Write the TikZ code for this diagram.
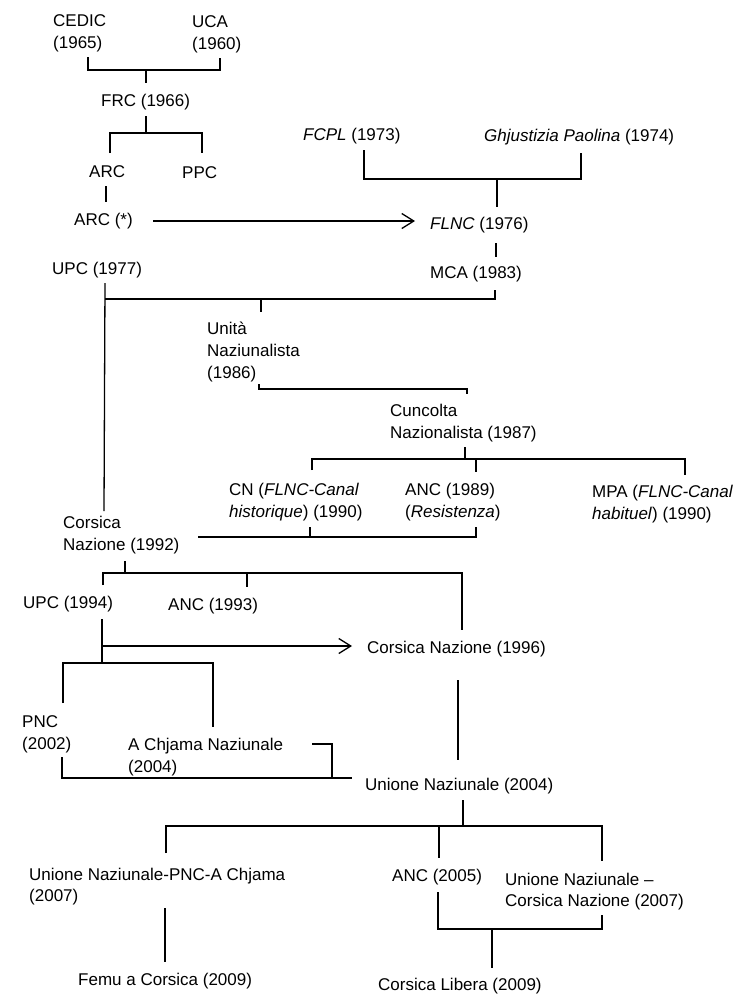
\documentclass[tikz,border=0pt]{standalone}
\usepackage{fontspec}
\setmainfont{Liberation Sans}
\usetikzlibrary{arrows.meta}
\newcommand{\twoline}[2]{\begin{tabular}[t]{@{}l@{}}#1\\#2\end{tabular}}
\newcommand{\threeline}[3]{\begin{tabular}[t]{@{}l@{}}#1\\#2\\#3\end{tabular}}
\begin{document}
\begin{tikzpicture}[x=1pt,y=-1pt,
  lbl/.style={inner sep=0pt,anchor=base west,font=\fontsize{17}{22}\selectfont},
  tight/.style={font=\fontsize{17}{20.5}\selectfont},
  conn/.style={line width=1.3pt,line join=miter},
  arr/.style={conn,-{Straight Barb[length=12pt,width=15pt]}}]
\fill[white] (0,0) rectangle (738,994);
\useasboundingbox (0,0) rectangle (738,994);
% labels
\node[lbl] (cedic) at (53,26) {\twoline{CEDIC}{(1965)}};
\node[lbl] (uca) at (192,27.5) {\twoline{UCA}{(1960)}};
\node[lbl] (frc) at (101,106.5) {FRC (1966)};
\node[lbl] (arc) at (89,177) {ARC};
\node[lbl] (ppc) at (182,178) {PPC};
\node[lbl] (arcs) at (74,225.5) {ARC (*)};
\node[lbl] (fcpl) at (303,140.5) {\textit{FCPL} (1973)};
\node[lbl] (ghj) at (484,141.5) {\textit{Ghjustizia Paolina} (1974)};
\node[lbl] (flnc) at (430,229.5) {\textit{FLNC} (1976)};
\node[lbl] (mca) at (430,278.5) {MCA (1983)};
\node[lbl] (upc77) at (52,274.5) {UPC (1977)};
\node[lbl] (unita) at (207,334) {\threeline{Unità}{Naziunalista}{(1986)}};
\node[lbl] (cunc) at (390,416) {\twoline{Cuncolta}{Nazionalista (1987)}};
\node[lbl] (cn) at (229,495) {\twoline{CN (\textit{FLNC-Canal}}{\textit{historique}) (1990)}};
\node[lbl] (anc89) at (405,495) {\twoline{ANC (1989)}{(\textit{Resistenza})}};
\node[lbl] (mpa) at (592,497.5) {\twoline{MPA (\textit{FLNC-Canal}}{\textit{habituel}) (1990)}};
\node[lbl] (cn92) at (63,528.5) {\twoline{Corsica}{Nazione (1992)}};
\node[lbl] (upc94) at (23,608.5) {UPC (1994)};
\node[lbl] (anc93) at (168,610.5) {ANC (1993)};
\node[lbl] (cn96) at (367,653.5) {Corsica Nazione (1996)};
\node[lbl] (pnc) at (22,727) {\twoline{PNC}{(2002)}};
\node[lbl] (acn) at (128,750.5) {\twoline{A Chjama Naziunale}{(2004)}};
\node[lbl] (un04) at (365,790.5) {Unione Naziunale (2004)};
\node[lbl,tight] (unpnc) at (29,880.5) {\twoline{Unione Naziunale-PNC-A Chjama}{(2007)}};
\node[lbl] (anc05) at (392,881.5) {ANC (2005)};
\node[lbl,tight] (uncn) at (505,885.5) {\twoline{Unione Naziunale –}{Corsica Nazione (2007)}};
\node[lbl] (femu) at (78,985.5) {Femu a Corsica (2009)};
\node[lbl] (clib) at (378,990.5) {Corsica Libera (2009)};
% junction coordinates
\coordinate (a1) at (88,57); \coordinate (a2) at (220,58); \coordinate (a3) at (146,70); \coordinate (a4) at (146,83);
\coordinate (b1) at (146,116); \coordinate (b2) at (146,133); \coordinate (b3) at (110,153); \coordinate (b4) at (202,153);
\coordinate (c1) at (106,186); \coordinate (c2) at (106,202);
\coordinate (d1) at (153,221); \coordinate (d2) at (415,221);
\coordinate (e1) at (364,150); \coordinate (e2) at (581,153); \coordinate (e3) at (497,179); \coordinate (e4) at (497,207);
\coordinate (f1) at (496,243); \coordinate (f2) at (496,257);
\coordinate (g1) at (105,283); \coordinate (g2) at (104,511); \coordinate (g3) at (105,299);
\coordinate (g4) at (495,290); \coordinate (g5) at (495,299); \coordinate (g6) at (261,299); \coordinate (g7) at (261,312);
\coordinate (h1) at (259,384); \coordinate (h2) at (259,389); \coordinate (h3) at (467,389); \coordinate (h4) at (467,394);
\coordinate (i1) at (465,447); \coordinate (i2) at (465,459); \coordinate (i3) at (312,470);
\coordinate (i4) at (476,472); \coordinate (i6) at (476,459); \coordinate (i5) at (685,475);
\coordinate (j1) at (198,537); \coordinate (j2) at (310,527); \coordinate (j3) at (310,537); \coordinate (j4) at (476,527); \coordinate (j5) at (476,537);
\coordinate (k1) at (125,561); \coordinate (k2) at (125,573); \coordinate (k3) at (103,585); \coordinate (k4) at (247,587); \coordinate (k6) at (247,573); \coordinate (k5) at (462,630);
\coordinate (l1) at (102,619); \coordinate (l2) at (102,663); \coordinate (l3) at (102,646); \coordinate (l4) at (352,646);
\coordinate (l5) at (63,703); \coordinate (l6) at (213,727);
\coordinate (m1) at (312,744); \coordinate (m2) at (332,744); \coordinate (m3) at (332,778);
\coordinate (m4) at (62,757); \coordinate (m5) at (62,778); \coordinate (m6) at (352,778);
\coordinate (n1) at (458,680); \coordinate (n2) at (458,760);
\coordinate (o1) at (463,800); \coordinate (o2) at (463,826); \coordinate (o3) at (166,853); \coordinate (o4) at (439,858); \coordinate (o6) at (439,826); \coordinate (o5) at (602,861);
\coordinate (p1) at (165,908); \coordinate (p2) at (165,962);
\coordinate (q1) at (438,892); \coordinate (q2) at (602,915); \coordinate (q3) at (492,929); \coordinate (q4) at (492,968);
% connectors
\draw[conn] (a1) |- (a3) -| (a2);
\draw[conn] (a3) -- (a4);
\draw[conn] (b1) -- (b2);
\draw[conn] (b3) |- (b2) -| (b4);
\draw[conn] (c1) -- (c2);
\draw[arr] (d1) -- (d2);
\draw[conn] (e1) |- (e3) -| (e2);
\draw[conn] (e3) -- (e4);
\draw[conn] (f1) -- (f2);
\draw[conn] (g1) -- (g2);
\draw[conn] (g3) -- (g5) -- (g4);
\draw[conn] (g6) -- (g7);
\draw[conn] (h1) -- (h2) -- (h3) -- (h4);
\draw[conn] (i1) -- (i2);
\draw[conn] (i3) |- (i2) -| (i5);
\draw[conn] (i6) -- (i4);
\draw[conn] (j1) -- (j5) -- (j4);
\draw[conn] (j2) -- (j3);
\draw[conn] (k1) -- (k2);
\draw[conn] (k3) |- (k2) -| (k5);
\draw[conn] (k6) -- (k4);
\draw[conn] (l1) -- (l2);
\draw[arr] (l3) -- (l4);
\draw[conn] (l5) |- (l2) -| (l6);
\draw[conn] (m1) -- (m2) -- (m3);
\draw[conn] (m4) -- (m5) -- (m6);
\draw[conn] (n1) -- (n2);
\draw[conn] (o1) -- (o2);
\draw[conn] (o3) |- (o2) -| (o5);
\draw[conn] (o6) -- (o4);
\draw[conn] (p1) -- (p2);
\draw[conn] (q1) |- (q3) -| (q2);
\draw[conn] (q3) -- (q4);
\end{tikzpicture}
\end{document}
